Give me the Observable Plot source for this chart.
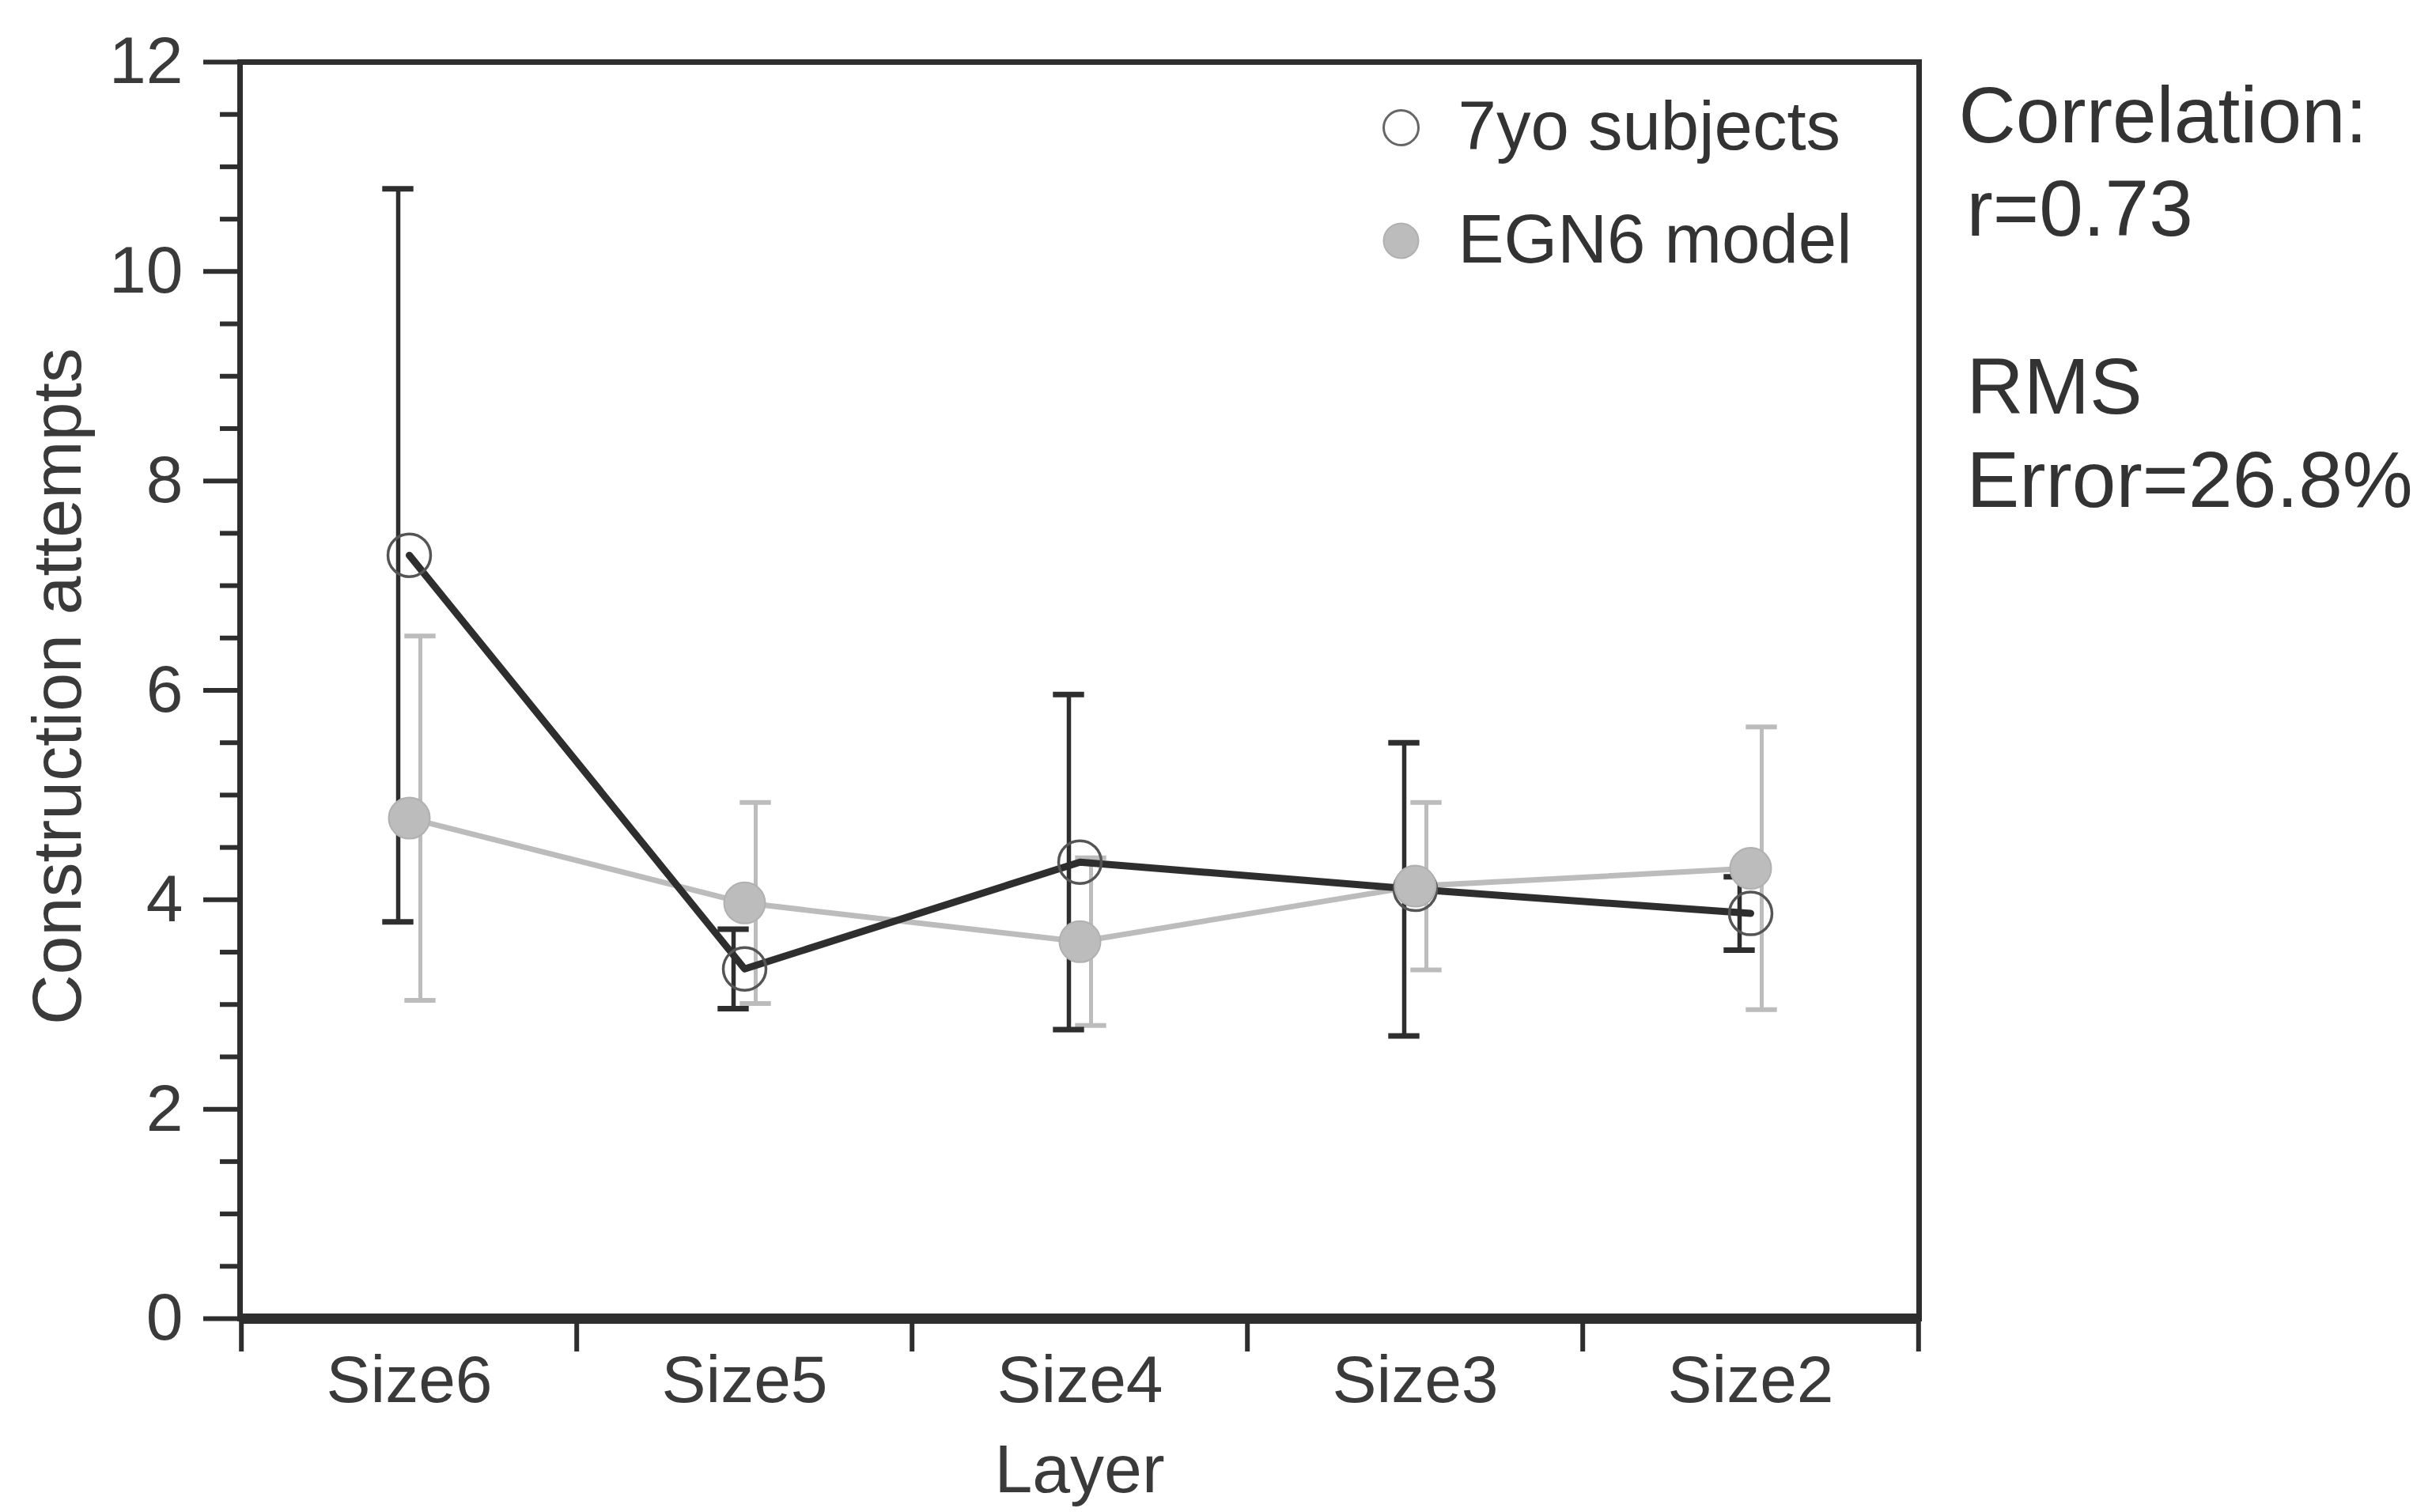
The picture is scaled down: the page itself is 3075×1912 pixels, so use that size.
<!DOCTYPE html>
<html>
<head>
<meta charset="utf-8">
<script src="https://cdn.jsdelivr.net/npm/d3@7"></script>
<script src="https://cdn.jsdelivr.net/npm/@observablehq/plot@0.6"></script>
<style>
  html, body { margin: 0; padding: 0; background: #ffffff; }
</style>
</head>
<body>
<div id="chart"></div>
<script>
// ---- data ----
const layers = ["Size6", "Size5", "Size4", "Size3", "Size2"];
const subjectMean = [7.29, 3.34, 4.36, 4.10, 3.87];
const subjectErr  = [3.50, 0.38, 1.60, 1.40, 0.35];
const modelMean   = [4.78, 3.97, 3.60, 4.13, 4.30];
const modelErr    = [1.74, 0.96, 0.80, 0.80, 1.35];
const yMajorTicks = [0, 2, 4, 6, 8, 10, 12];
const yMinorTicks = [0.5, 1, 1.5, 2.5, 3, 3.5, 4.5, 5, 5.5, 6.5, 7, 7.5, 8.5, 9, 9.5, 10.5, 11, 11.5];
const legendLabels = ["7yo subjects", "EGN6 model"];
const statLines = ["Correlation:", "r=0.73", "RMS", "Error=26.8%"];
const xLabel = "Layer";
const yLabel = "Construction attempts";

const subjects = layers.map((l, i) => ({layer: l, mean: subjectMean[i], lo: subjectMean[i] - subjectErr[i], hi: subjectMean[i] + subjectErr[i]}));
const model = layers.map((l, i) => ({layer: l, mean: modelMean[i], lo: modelMean[i] - modelErr[i], hi: modelMean[i] + modelErr[i]}));

const W = 3075, H = 1912;
const mL = 303, mR = 649, mT = 78, mB = 245;
const half = (W - mL - mR) / layers.length / 2;
const capHalf = 20;
const offB = -14, offG = 14;

const ink = "#2e2e2e";
const grey = "#bcbcbc";

const chart = Plot.plot({
  width: W, height: H,
  marginLeft: mL, marginRight: mR, marginTop: mT, marginBottom: mB,
  style: {fontFamily: "'Liberation Sans', Arial, Helvetica, sans-serif", fontSize: "84px", color: "#3a3a3a", background: "#ffffff"},
  x: {type: "band", domain: layers, padding: 0},
  y: {domain: [0, 12]},
  marks: [
    Plot.frame({stroke: ink, strokeWidth: 7}),
    // y axis
    Plot.axisY({ticks: yMajorTicks, tickSize: 46, tickPadding: 26, strokeWidth: 6, stroke: ink, label: null, fontSize: 84}),
    Plot.axisY({ticks: yMinorTicks, tickSize: 25, strokeWidth: 6, stroke: ink, label: null, tickFormat: () => ""}),
    // x axis: labels at band centres, ticks at band boundaries
    Plot.axisX({tickSize: 0, tickPadding: 46, label: null, fontSize: 84}),
    Plot.axisX({tickSize: 42, strokeWidth: 6, stroke: ink, dx: -half, label: null, tickFormat: () => ""}),
    Plot.axisX({ticks: [layers[layers.length - 1]], tickSize: 42, strokeWidth: 6, stroke: ink, dx: half, label: null, tickFormat: () => ""}),
    Plot.ruleY([0], {stroke: ink, strokeWidth: 13}),
    // model error bars
    Plot.ruleX(model, {x: "layer", y1: "lo", y2: "hi", dx: offG, stroke: grey, strokeWidth: 5}),
    Plot.tickY(model, {x: "layer", y: "hi", insetLeft: half - capHalf + offG, insetRight: half - capHalf - offG, stroke: grey, strokeWidth: 6}),
    Plot.tickY(model, {x: "layer", y: "lo", insetLeft: half - capHalf + offG, insetRight: half - capHalf - offG, stroke: grey, strokeWidth: 6}),
    // subject error bars
    Plot.ruleX(subjects, {x: "layer", y1: "lo", y2: "hi", dx: offB, stroke: ink, strokeWidth: 5.5}),
    Plot.tickY(subjects, {x: "layer", y: "hi", insetLeft: half - capHalf + offB, insetRight: half - capHalf - offB, stroke: ink, strokeWidth: 7}),
    Plot.tickY(subjects, {x: "layer", y: "lo", insetLeft: half - capHalf + offB, insetRight: half - capHalf - offB, stroke: ink, strokeWidth: 7}),
    // lines
    Plot.line(model, {x: "layer", y: "mean", stroke: grey, strokeWidth: 7}),
    Plot.line(subjects, {x: "layer", y: "mean", stroke: ink, strokeWidth: 9}),
    Plot.dot(subjects, {x: "layer", y: "mean", r: 27, stroke: "#555", strokeWidth: 3.5, fill: "none"}),
    Plot.dot(model, {x: "layer", y: "mean", r: 26, fill: grey, stroke: "#b0b0b0", strokeWidth: 2}),
    // legend
    Plot.dot([legendLabels[0]], {frameAnchor: "top-right", dx: -655, dy: 83, r: 22, stroke: "#666", strokeWidth: 3, fill: "#ffffff"}),
    Plot.dot([legendLabels[1]], {frameAnchor: "top-right", dx: -655, dy: 226, r: 22, fill: grey, stroke: "#b0b0b0", strokeWidth: 2}),
    Plot.text([legendLabels[0]], {text: d => d, frameAnchor: "top-right", dx: -583, dy: 83, textAnchor: "start", lineAnchor: "middle", fontSize: 87, fill: "#333"}),
    Plot.text([legendLabels[1]], {text: d => d, frameAnchor: "top-right", dx: -583, dy: 226, textAnchor: "start", lineAnchor: "middle", fontSize: 87, fill: "#333"}),
    // stats annotation (outside frame, right)
    Plot.text([statLines[0]], {text: d => d, frameAnchor: "top-right", dx: 50, dy: 69, textAnchor: "start", lineAnchor: "middle", fontSize: 100, fill: "#333"}),
    Plot.text([statLines[1]], {text: d => d, frameAnchor: "top-right", dx: 60, dy: 187, textAnchor: "start", lineAnchor: "middle", fontSize: 100, fill: "#333"}),
    Plot.text([statLines[2]], {text: d => d, frameAnchor: "top-right", dx: 60, dy: 412, textAnchor: "start", lineAnchor: "middle", fontSize: 100, fill: "#333"}),
    Plot.text([statLines[3]], {text: d => d, frameAnchor: "top-right", dx: 60, dy: 530, textAnchor: "start", lineAnchor: "middle", fontSize: 100, fill: "#333"}),
    // axis titles
    Plot.text([xLabel], {text: d => d, frameAnchor: "bottom", dy: 192, lineAnchor: "middle", fontSize: 86, fill: "#3a3a3a"}),
    Plot.text([yLabel], {text: d => d, frameAnchor: "left", dx: -230, dy: -5, rotate: -90, textAnchor: "middle", lineAnchor: "middle", fontSize: 88, fill: "#3a3a3a"})
  ]
});
document.getElementById("chart").appendChild(chart);
</script>
</body>
</html>
